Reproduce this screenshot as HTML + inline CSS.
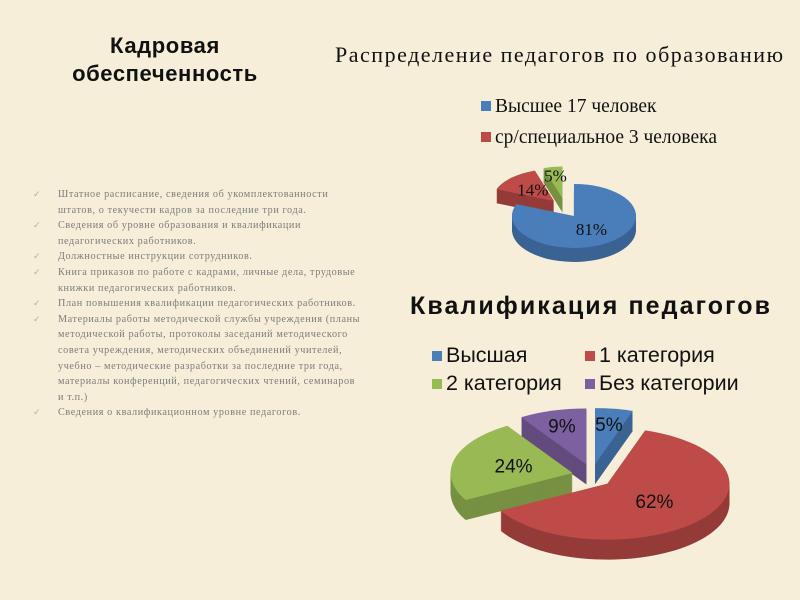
<!DOCTYPE html>
<html><head><meta charset="utf-8">
<style>
body{margin:0;width:800px;height:600px;background:#f6eed8;overflow:hidden;position:relative;font-family:"Liberation Serif",serif}
.h{position:absolute;font-family:"Liberation Sans",sans-serif;font-weight:bold;color:#111}
.list{position:absolute;left:33px;top:187px;width:330px;font-size:10.2px;color:#7c7c7c;line-height:15.6px;letter-spacing:0.6px}
.list div{position:relative;padding-left:25px}
.list div:before{content:"✓";position:absolute;left:0;color:#b5b08a;font-size:9px}
</style></head><body>
<div class="h" style="left:40px;top:32px;width:250px;text-align:center;font-size:22px;line-height:28px;letter-spacing:0.6px">Кадровая обеспеченность</div>
<div class="list">
<div>Штатное расписание, сведения об укомплектованности штатов, о текучести кадров за последние три года.</div>
<div>Сведения об уровне образования и квалификации педагогических работников.</div>
<div>Должностные инструкции сотрудников.</div>
<div>Книга приказов по работе с кадрами, личные дела, трудовые книжки педагогических работников.</div>
<div>План повышения квалификации педагогических работников.</div>
<div>Материалы работы методической службы учреждения (планы методической работы, протоколы заседаний методического совета учреждения, методических объединений учителей, учебно – методические разработки за последние три года, материалы конференций, педагогических чтений, семинаров и т.п.)</div>
<div>Сведения о квалификационном уровне педагогов.</div>
</div>
<svg id="s" width="800" height="600" style="position:absolute;left:0;top:0">
<text x="335" y="62" font-size="22" textLength="448" font-family="Liberation Serif,serif" fill="#111">Распределение педагогов по образованию</text>
<text x="410" y="314" font-size="25" textLength="360" font-weight="bold" font-family="Liberation Sans,sans-serif" fill="#111">Квалификация педагогов</text>
</svg>
<script>
const edLabels=["Высшее 17 человек","ср/специальное 3 человека","другое"];
const edValues=[81,14,5];
const edColors=["#4a7ebb","#be4b48","#98b954"];
const qLabels=["Высшая","1 категория","2 категория","Без категории"];
const qValues=[5,62,24,9];
const qColors=["#4a7ebb","#be4b48","#98b954","#7d60a0"];
const svg=document.getElementById('s');
const NS='http://www.w3.org/2000/svg';
function mk(t,a){const e=document.createElementNS(NS,t);for(const k in a)e.setAttribute(k,a[k]);svg.appendChild(e);return e;}
function dark(c,f){const n=parseInt(c.slice(1),16);return 'rgb('+[(n>>16)&255,(n>>8)&255,n&255].map(v=>Math.round(v*f)).join(',')+')';}
function pie(vals,cols,cx,cy,rx,ry,dep,ex,fs,name,serif){
  const tot=vals.reduce((a,b)=>a+b,0);let a=-90;const sl=[];
  vals.forEach((v,i)=>{const s=a,e=a+v/tot*360;a=e;const m=(s+e)/2*Math.PI/180;
    sl.push({s,e,ox:cx+ex*Math.cos(m),oy:cy+ex*0.6*Math.sin(m),m,v,c:cols[i]});});
  function path(o,dy){const p=d=>[o.ox+rx*Math.cos(d*Math.PI/180),o.oy+dy+ry*Math.sin(d*Math.PI/180)];
    const A=p(o.s),B=p(o.e),lg=(o.e-o.s)>180?1:0;
    return `M${o.ox},${o.oy+dy}L${A}A${rx},${ry} 0 ${lg} 1 ${B}Z`;}
  for(let d=dep;d>0;d-=1)sl.forEach(o=>{const el=mk('path',{d:path(o,d),fill:dark(o.c,0.78)});
    
    });
  sl.forEach((o,i)=>{const el=mk('path',{d:path(o,0),fill:o.c});
    
    });
  sl.forEach((o,i)=>{const r=o.v<10?0.72:0.5;const t=mk('text',{x:o.ox+rx*r*Math.cos(o.m),y:o.oy+ry*r*Math.sin(o.m)+fs*0.35,'text-anchor':'middle','font-size':fs,'font-family':serif?'Liberation Serif,serif':'Liberation Sans,sans-serif',fill:'#111'});
    t.textContent=o.v+'%';
    
    });
}
pie(edValues,edColors,565,208,62,32,14,16,17,'education-pie',true);
pie(qValues,qColors,592,476,122,56,20,20,19,'qualification-pie',false);
function leg(x,y,c,t,fs,serif,nm){const r=mk('rect',{x:x,y:y-11,width:10,height:10,fill:c});
  
  
  const tx=mk('text',{x:x+14,y:y,'font-size':fs,'font-family':serif?'Liberation Serif,serif':'Liberation Sans,sans-serif',fill:'#111'});tx.textContent=t;
  
  }
leg(481,112,edColors[0],edLabels[0],19.5,true,'legend-entry');
leg(481,143,edColors[1],edLabels[1],19.5,true,'legend-entry');
const qpos=[[432,362],[585,362],[432,390],[585,390]];
qLabels.forEach((l,i)=>leg(qpos[i][0],qpos[i][1],qColors[i],l,21.5,false,'legend-entry'));
</script>
</body></html>
